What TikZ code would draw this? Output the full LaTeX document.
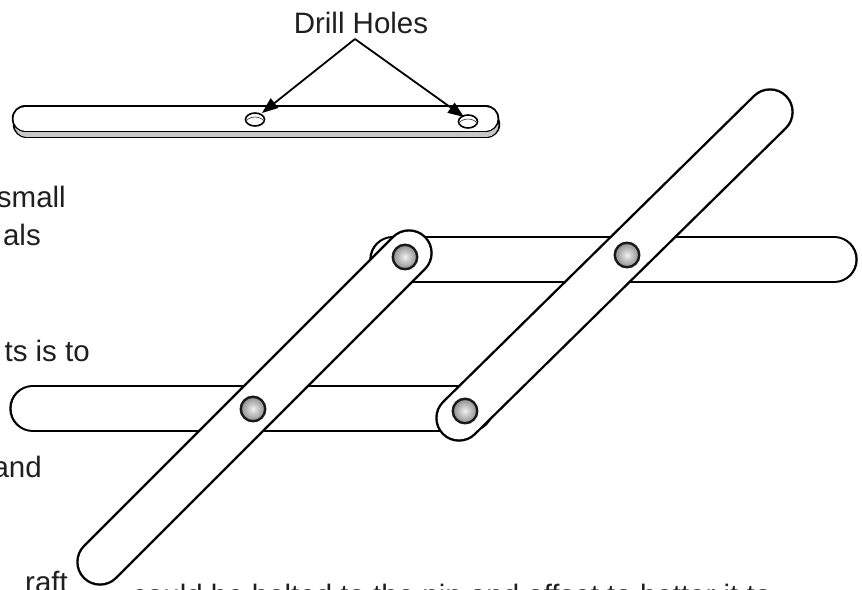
\documentclass[tikz,border=0pt]{standalone}
\usepackage{fontspec}
\setmainfont{Liberation Sans}
\usetikzlibrary{arrows.meta}
\begin{document}
\begin{tikzpicture}[x=1pt,y=-1pt,
  stickline/.style={line width=47.5pt,line cap=round,black},
  stickface/.style={line width=42.7pt,line cap=round,white},
  bodytext/.style={font=\fontsize{29.5}{34}\selectfont,inner sep=0pt,text=black!88},
  pointer/.style={line width=1.8pt,-{Triangle[length=16pt,width=12pt]}},
  pinhead/.style={circle,draw=black!90,line width=2.4pt,minimum size=24.5pt,inner sep=0pt,
                  inner color=black!6,outer color=black!45}
]
\useasboundingbox (0,0) rectangle (862,589);
\clip (0,0) rectangle (862,589);

% ---- loose stick with its two drill holes ----
\coordinate (sl) at (25.5,118.5);
\coordinate (sr) at (485.5,118.5);
\coordinate (sl2) at (26.5,124.5);
\coordinate (sr2) at (486.5,124.5);
\draw[line width=27.5pt,line cap=round,black] (sl2) -- (sr2);
\draw[line width=24pt,line cap=round,black!22] (sl2) -- (sr2);
\draw[line width=27.5pt,line cap=round,black] (sl) -- (sr);
\draw[line width=24pt,line cap=round,white] (sl) -- (sr);

\coordinate (h1) at (255,119.5);
\coordinate (h2) at (468,121.5);
\foreach \h in {h1,h2}{
  \filldraw[fill=white,line width=1.6pt] (\h) ellipse (9.5pt and 6.5pt);
  \begin{scope}
    \clip (\h) ellipse (9.5pt and 6.5pt);
    \draw[line width=0.7pt,black!70] ([yshift=-4pt]\h) ellipse (9.5pt and 6.5pt);
  \end{scope}
}

\node[bodytext,anchor=base] (dh) at (361,33) {Drill Holes};
\coordinate (apex) at (355,39);
\coordinate (t1) at (262,113);
\coordinate (t2) at (464,117);
\draw[pointer] (apex) -- (t1);
\draw[pointer] (apex) -- (t2);

% ---- assembled linkage ----
\coordinate (ua) at (393,259.5);
\coordinate (ub) at (834,259.5);
\coordinate (la) at (33,408.5);
\coordinate (lb) at (470,408.5);
\coordinate (da) at (409,253);
\coordinate (db) at (100,562);
\coordinate (ea) at (770,112);
\coordinate (eb) at (459,418);

\foreach \a/\b in {ua/ub,la/lb,da/db,ea/eb}{
  \draw[stickline] (\a) -- (\b);
  \draw[stickface] (\a) -- (\b);
}

\node[pinhead] (p1) at (405,257) {};
\node[pinhead] (p2) at (627,255) {};
\node[pinhead] (p3) at (253,409) {};
\node[pinhead] (p4) at (465,411) {};

% ---- surrounding page text ----
\node[bodytext,anchor=base east] (w1) at (66,207) {small};
\node[bodytext,anchor=base east] (w2) at (41,245.5) {als};
\node[bodytext,anchor=base east] (w3) at (90,361) {ts is to};
\node[bodytext,anchor=base east] (w4) at (42,477) {and};
\node[bodytext,anchor=base east] (w5) at (68,592) {raft};
\node[bodytext,anchor=base west] (w6) at (132,605.5) {could be bolted to the pin and offset to better it to};
\end{tikzpicture}
\end{document}
